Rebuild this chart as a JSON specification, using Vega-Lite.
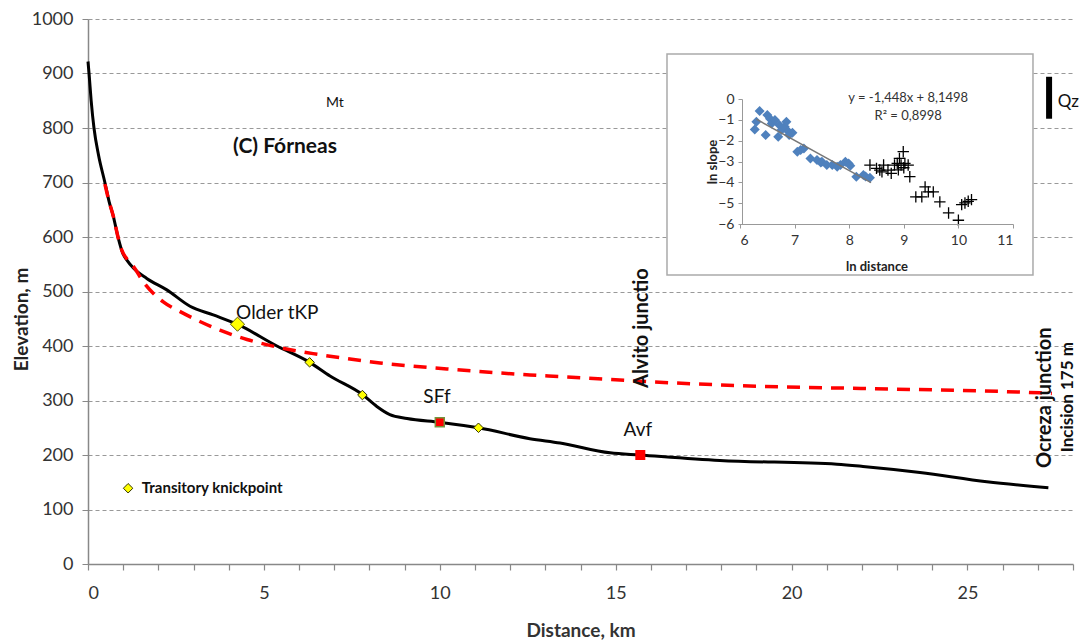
{
  "$schema": "https://vega.github.io/schema/vega-lite/v6.json",
  "width": 985,
  "height": 545,
  "autosize": {"type": "none"},
  "padding": {"left": 88, "top": 19, "right": 13, "bottom": 76},
  "config": {"view": {"stroke": null}, "font": "Lato", "text": {"font": "Lato"}},
  "layer": [
    {
      "encoding": {
        "x": {"field": "d", "type": "quantitative",
          "scale": {"domain": [0, 28], "nice": false},
          "axis": {"title": "Distance, km", "values": [0,1,2,3,4,5,6,7,8,9,10,11,12,13,14,15,16,17,18,19,20,21,22,23,24,25,26,27,28],
            "labelExpr": "datum.value % 5 === 0 ? datum.label : ''", "grid": false,
            "domainColor": "#888", "domainWidth": 1.5, "tickColor": "#888", "tickWidth": 1.2, "tickSize": 6, "labelFontSize": 18, "labelColor": "#333",
            "labelPadding": 14, "titleFontSize": 19, "titleFontWeight": "bold", "titleColor": "#333", "titleY": 66, "titleBaseline": "middle"}},
        "y": {"field": "elev", "type": "quantitative",
          "scale": {"domain": [0, 1000], "nice": false},
          "axis": {"title": "Elevation, m", "format": "d", "values": [0,100,200,300,400,500,600,700,800,900,1000], "grid": true,
            "gridDash": [4, 3], "gridColor": "#999", "gridWidth": 1, "domainColor": "#888", "domainWidth": 1.5, "tickColor": "#888",
            "tickSize": 6, "labelFontSize": 18, "labelColor": "#333", "labelPadding": 9, "titleFontSize": 19, "titleFontWeight": "bold",
            "titleColor": "#222", "titleX": -67, "titleY": 300, "titleBaseline": "middle"}}
      },
      "layer": [
        {
          "data": {"values": [
            {"d": 0, "elev": 922}, {"d": 0.03, "elev": 900}, {"d": 0.09, "elev": 850}, {"d": 0.17, "elev": 800},
            {"d": 0.3, "elev": 750}, {"d": 0.48, "elev": 700}, {"d": 0.6, "elev": 665}, {"d": 0.72, "elev": 638},
            {"d": 0.86, "elev": 598}, {"d": 0.99, "elev": 570}, {"d": 1.1, "elev": 558}, {"d": 1.29, "elev": 543},
            {"d": 1.67, "elev": 524}, {"d": 2.24, "elev": 503}, {"d": 2.9, "elev": 473}, {"d": 3.56, "elev": 457},
            {"d": 4.24, "elev": 440}, {"d": 5.37, "elev": 400}, {"d": 6.3, "elev": 370}, {"d": 6.88, "elev": 345},
            {"d": 7.8, "elev": 311}, {"d": 8.21, "elev": 289}, {"d": 8.58, "elev": 274}, {"d": 9.07, "elev": 267},
            {"d": 10, "elev": 260}, {"d": 11.1, "elev": 250}, {"d": 12.56, "elev": 230}, {"d": 13.42, "elev": 222},
            {"d": 14.84, "elev": 204}, {"d": 15.7, "elev": 200}, {"d": 17.96, "elev": 190}, {"d": 21.29, "elev": 183},
            {"d": 22.03, "elev": 179}, {"d": 23.65, "elev": 168}, {"d": 25.55, "elev": 151}, {"d": 27.3, "elev": 140}
          ]},
          "mark": {"type": "line", "color": "black", "strokeWidth": 3, "interpolate": "monotone"}
        },
        {
          "data": {"values": [
            {"d": 0.48, "elev": 697}, {"d": 0.6, "elev": 665}, {"d": 0.72, "elev": 638}, {"d": 0.86, "elev": 598},
            {"d": 0.96, "elev": 576}, {"d": 1.1, "elev": 560}, {"d": 1.29, "elev": 546}, {"d": 1.57, "elev": 518},
            {"d": 2.14, "elev": 481}, {"d": 2.62, "elev": 463}, {"d": 3.18, "elev": 445}, {"d": 3.75, "elev": 429},
            {"d": 4.27, "elev": 417}, {"d": 4.52, "elev": 412}, {"d": 5.46, "elev": 397}, {"d": 6.4, "elev": 386},
            {"d": 7.36, "elev": 377}, {"d": 8.3, "elev": 369}, {"d": 10.2, "elev": 358}, {"d": 12.56, "elev": 347},
            {"d": 13.42, "elev": 344}, {"d": 15.78, "elev": 335}, {"d": 19.1, "elev": 326}, {"d": 22.9, "elev": 321},
            {"d": 27.06, "elev": 314}, {"d": 27.4, "elev": 313}
          ]},
          "mark": {"type": "line", "color": "#FF0000", "strokeWidth": 3.5, "strokeDash": [13, 9], "interpolate": "monotone"}
        },
        {
          "data": {"values": [{"d": 27.32, "elev": 894, "elev2": 817}]},
          "mark": {"type": "rule", "color": "black", "strokeWidth": 6},
          "encoding": {"y2": {"field": "elev2"}}
        },
        {
          "data": {"values": [{"d": 4.25, "elev": 440}]},
          "mark": {"type": "point", "shape": "diamond", "filled": true, "fill": "#FFFF00", "stroke": "#5a5a00", "strokeWidth": 1, "size": 200, "opacity": 1}
        },
        {
          "data": {"values": [{"d": 6.3, "elev": 370}, {"d": 7.8, "elev": 310}, {"d": 11.1, "elev": 250}, {"d": 1.14, "elev": 139}]},
          "mark": {"type": "point", "shape": "diamond", "filled": true, "fill": "#FFFF00", "stroke": "#333300", "strokeWidth": 1, "size": 90, "opacity": 1}
        },
        {
          "data": {"values": [{"d": 10, "elev": 260}]},
          "mark": {"type": "point", "shape": "square", "filled": true, "fill": "#FF0000", "stroke": "#77933C", "strokeWidth": 1.5, "size": 80, "opacity": 1}
        },
        {
          "data": {"values": [{"d": 15.7, "elev": 200}]},
          "mark": {"type": "point", "shape": "square", "filled": true, "fill": "#FF0000", "strokeWidth": 0, "size": 100, "opacity": 1}
        },
        {
          "data": {"values": [{"d": 4.21, "elev": 460, "t": "Older tKP"}]},
          "mark": {"type": "text", "align": "left", "baseline": "middle", "fontSize": 19, "color": "#111"},
          "encoding": {"text": {"field": "t"}}
        },
        {
          "data": {"values": [{"d": 9.92, "elev": 307, "t": "SFf"}, {"d": 15.63, "elev": 245, "t": "Avf"}]},
          "mark": {"type": "text", "align": "center", "baseline": "middle", "fontSize": 19, "color": "#111"},
          "encoding": {"text": {"field": "t"}}
        },
        {
          "data": {"values": [{"d": 5.6, "elev": 766, "t": "(C) Fórneas"}]},
          "mark": {"type": "text", "align": "center", "baseline": "middle", "fontSize": 21, "fontWeight": "bold", "color": "#111"},
          "encoding": {"text": {"field": "t"}}
        },
        {
          "data": {"values": [{"d": 7.02, "elev": 845, "t": "Mt"}]},
          "mark": {"type": "text", "align": "center", "baseline": "middle", "fontSize": 14, "color": "#111"},
          "encoding": {"text": {"field": "t"}}
        },
        {
          "data": {"values": [{"d": 27.57, "elev": 848, "t": "Qz"}]},
          "mark": {"type": "text", "align": "left", "baseline": "middle", "fontSize": 17, "color": "#111"},
          "encoding": {"text": {"field": "t"}}
        },
        {
          "data": {"values": [{"d": 1.53, "elev": 139, "t": "Transitory knickpoint"}]},
          "mark": {"type": "text", "align": "left", "baseline": "middle", "fontSize": 15, "fontWeight": "bold", "color": "#111"},
          "encoding": {"text": {"field": "t"}}
        },
        {
          "data": {"values": [{"d": 15.75, "elev": 323, "t": "Alvito junctio"}, {"d": 27.2, "elev": 176, "t": "Ocreza junction"}]},
          "mark": {"type": "text", "align": "left", "baseline": "middle", "angle": 270, "fontSize": 20, "fontWeight": "bold", "color": "#111"},
          "encoding": {"text": {"field": "t"}}
        },
        {
          "data": {"values": [{"d": 27.86, "elev": 205, "t": "Incision 175 m"}]},
          "mark": {"type": "text", "align": "left", "baseline": "middle", "angle": 270, "fontSize": 17, "fontWeight": "bold", "color": "#111"},
          "encoding": {"text": {"field": "t"}}
        }
      ]
    },
    {
      "encoding": {
        "x": {"field": "lx", "type": "quantitative",
          "scale": {"domain": [6, 11], "range": [652, 925], "nice": false, "zero": false},
          "axis": {"orient": "bottom", "offset": -340, "values": [6, 7, 8, 9, 10, 11], "grid": false, "zindex": 2,
            "title": "ln distance", "titleFontSize": 13, "titleFontWeight": "bold", "titleColor": "#222", "titleY": 42, "titleBaseline": "middle",
            "domainColor": "#999", "tickColor": "#999", "tickSize": 4, "labelFontSize": 14, "labelColor": "#333", "labelPadding": 5}},
        "y": {"field": "ly", "type": "quantitative",
          "scale": {"domain": [-6, 0], "range": [205, 80], "nice": false, "zero": false},
          "axis": {"orient": "left", "offset": -654, "values": [-6, -5, -4, -3, -2, -1, 0], "grid": false, "zindex": 2,
            "title": "ln slope", "titleFontSize": 13, "titleFontWeight": "bold", "titleColor": "#222", "titleX": -30, "titleBaseline": "middle",
            "domainColor": "#999", "tickColor": "#999", "tickSize": 4, "labelFontSize": 14, "labelColor": "#333", "labelPadding": 4}}
      },
      "layer": [
        {
          "data": {"values": [{"lx": 4.663, "lx2": 11.366, "ly": 2.16, "ly2": -8.45}]},
          "mark": {"type": "rect", "fill": "white", "stroke": "#aaa", "strokeWidth": 1.5},
          "encoding": {"x2": {"field": "lx2"}, "y2": {"field": "ly2"}}
        },
        {
          "data": {"values": [
            {"lx": 6.27, "ly": -1.46}, {"lx": 6.30, "ly": -1.09}, {"lx": 6.36, "ly": -0.58}, {"lx": 6.47, "ly": -1.73},
            {"lx": 6.50, "ly": -0.77}, {"lx": 6.55, "ly": -0.95}, {"lx": 6.58, "ly": -1.17}, {"lx": 6.64, "ly": -1.01},
            {"lx": 6.70, "ly": -1.81}, {"lx": 6.72, "ly": -1.25}, {"lx": 6.76, "ly": -1.49}, {"lx": 6.82, "ly": -1.33},
            {"lx": 6.85, "ly": -1.09}, {"lx": 6.88, "ly": -1.55}, {"lx": 6.90, "ly": -1.73}, {"lx": 6.96, "ly": -1.62},
            {"lx": 7.05, "ly": -2.53}, {"lx": 7.11, "ly": -2.45}, {"lx": 7.17, "ly": -2.37}, {"lx": 7.29, "ly": -2.85},
            {"lx": 7.41, "ly": -2.93}, {"lx": 7.48, "ly": -3.05}, {"lx": 7.50, "ly": -3.01}, {"lx": 7.59, "ly": -3.17},
            {"lx": 7.69, "ly": -3.17}, {"lx": 7.78, "ly": -3.25}, {"lx": 7.84, "ly": -3.17}, {"lx": 7.93, "ly": -3.01},
            {"lx": 7.99, "ly": -3.09}, {"lx": 8.02, "ly": -3.2}, {"lx": 8.13, "ly": -3.73}, {"lx": 8.26, "ly": -3.65},
            {"lx": 8.3, "ly": -3.72}, {"lx": 8.38, "ly": -3.78}
          ]},
          "mark": {"type": "point", "shape": "diamond", "filled": true, "color": "#4F81BD", "size": 100, "opacity": 1}
        },
        {
          "data": {"values": [
            {"lx": 8.38, "ly": -3.17}, {"lx": 8.50, "ly": -3.33}, {"lx": 8.56, "ly": -3.41}, {"lx": 8.6, "ly": -3.5},
            {"lx": 8.63, "ly": -3.17}, {"lx": 8.71, "ly": -3.41}, {"lx": 8.77, "ly": -3.57}, {"lx": 8.83, "ly": -3.17},
            {"lx": 8.88, "ly": -3.09}, {"lx": 8.9, "ly": -3.4}, {"lx": 8.92, "ly": -2.85}, {"lx": 8.95, "ly": -3.17},
            {"lx": 8.99, "ly": -2.53}, {"lx": 9.0, "ly": -3.3}, {"lx": 9.02, "ly": -3.09}, {"lx": 9.08, "ly": -3.17},
            {"lx": 9.11, "ly": -3.73}, {"lx": 9.22, "ly": -4.70}, {"lx": 9.33, "ly": -4.70}, {"lx": 9.39, "ly": -4.22},
            {"lx": 9.45, "ly": -4.46}, {"lx": 9.54, "ly": -4.46}, {"lx": 9.66, "ly": -4.94}, {"lx": 9.82, "ly": -5.47},
            {"lx": 10.0, "ly": -5.82}, {"lx": 10.06, "ly": -5.07}, {"lx": 10.12, "ly": -4.99}, {"lx": 10.18, "ly": -4.91},
            {"lx": 10.24, "ly": -4.83}
          ]},
          "mark": {"type": "point", "shape": "M-1,0L1,0M0,-1L0,1", "filled": false, "stroke": "black", "strokeWidth": 1.3, "size": 130, "opacity": 1}
        },
        {
          "data": {"values": [{"lx": 6.3, "ly": -0.97}, {"lx": 8.4, "ly": -4.01}]},
          "mark": {"type": "line", "color": "#777", "strokeWidth": 1.5}
        },
        {
          "data": {"values": [{"lx": 9.08, "ly": 0.05, "t": "y = -1,448x + 8,1498"}, {"lx": 9.08, "ly": -0.82, "t": "R² = 0,8998"}]},
          "mark": {"type": "text", "align": "center", "baseline": "middle", "fontSize": 13, "color": "#333"},
          "encoding": {"text": {"field": "t"}}
        }
      ]
    }
  ],
  "resolve": {"scale": {"x": "independent", "y": "independent"}, "axis": {"x": "independent", "y": "independent"}}
}
